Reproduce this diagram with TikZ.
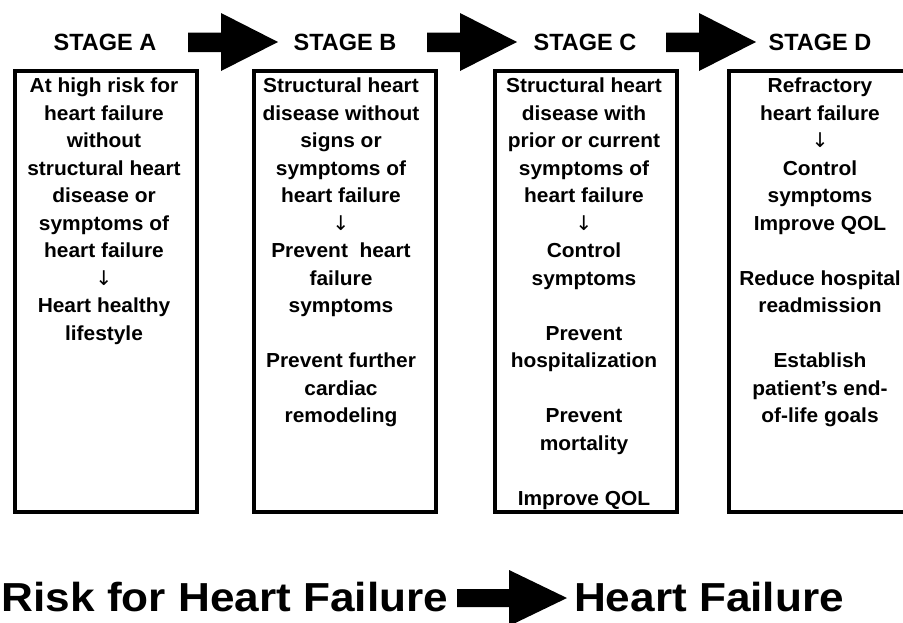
\documentclass[tikz,border=0pt]{standalone}
\usepackage{fontspec}
\newfontfamily\boxfont{Liberation Sans}[FakeStretch=1.03]
\newfontfamily\stagefont{Liberation Sans}
\newfontfamily\bigfont{Liberation Sans}[FakeStretch=1.09]
\newfontfamily\arrfont{DejaVu Sans}
\tikzset{
  stagebox/.style={draw, line width=4pt, minimum width=182pt, minimum height=441pt, inner sep=0pt},
  boxtext/.style={anchor=north, align=center, inner sep=0pt, font=\boxfont\bfseries\fontsize{20.3}{27.5}\selectfont},
  stagelabel/.style={anchor=base, inner sep=0pt, font=\stagefont\bfseries\fontsize{23.5}{28}\selectfont},
  bigtext/.style={anchor=base, inner sep=0pt, font=\bigfont\bfseries\fontsize{40.5}{48}\selectfont},
  blockarrow/.style={fill=black, draw=none}
}
\newcommand{\fl}{\rule{0pt}{19.25pt}}
\newcommand{\dn}{{\arrfont\mdseries ↓}}
\begin{document}
\begin{tikzpicture}[x=1pt,y=-1pt]
\useasboundingbox (0,0) rectangle (903,622);
\clip (0,0) rectangle (903,622);
\fill[white] (0,0) rectangle (903,622);
% stage labels
\node[stagelabel] (labA) at (105,50) {STAGE A};
\node[stagelabel] (labB) at (345,50) {STAGE B};
\node[stagelabel] (labC) at (585,50) {STAGE C};
\node[stagelabel] (labD) at (820,50) {STAGE D};
% block arrows between stages
\foreach \dx in {0,239,478}{
  \fill[blockarrow] (188+\dx,32.5) -- (221+\dx,32.5) -- (221+\dx,13) -- (278+\dx,42) -- (221+\dx,71) -- (221+\dx,52) -- (188+\dx,52) -- cycle;
}
% boxes
\node[stagebox] (boxA) at (105.5,291.5) {};
\node[stagebox] (boxB) at (345,291.5) {};
\node[stagebox] (boxC) at (585.5,291.5) {};
\node[stagebox] (boxD) at (820,291.5) {};
% box texts
\node[boxtext] (txtA) at (104,73.25) {\fl At high risk for\\heart failure\\without\\structural heart\\disease or\\symptoms of\\heart failure\\\dn\\Heart healthy\\lifestyle};
\node[boxtext] (txtB) at (341,73.25) {\fl Structural heart\\disease without\\signs or\\symptoms of\\heart failure\\\dn\\Prevent~ heart\\failure\\symptoms\\[27.5pt]Prevent further\\cardiac\\remodeling};
\node[boxtext] (txtC) at (584,73.25) {\fl Structural heart\\disease with\\prior or current\\symptoms of\\heart failure\\\dn\\Control\\symptoms\\[27.5pt]Prevent\\hospitalization\\[27.5pt]Prevent\\mortality\\[27.5pt]Improve QOL};
\node[boxtext] (txtD) at (820,73.25) {\fl Refractory\\heart failure\\\dn\\Control\\symptoms\\Improve QOL\\[27.5pt]Reduce hospital\\readmission\\[27.5pt]Establish\\patient’s end-\\of-life goals};
% bottom line
\node[bigtext] (risk) at (225,611) {Risk for Heart Failure};
\node[bigtext] (hf) at (709,611) {Heart Failure};
\fill[blockarrow] (457,589) -- (509,589) -- (509,570) -- (567,598) -- (509,626) -- (509,607) -- (457,607) -- cycle;
\end{tikzpicture}
\end{document}
